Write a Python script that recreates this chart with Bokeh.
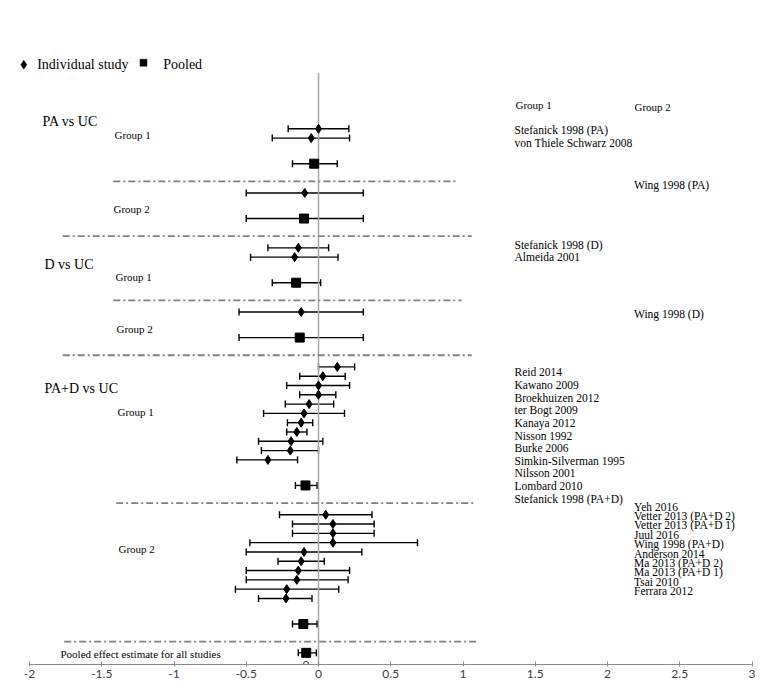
from bokeh.plotting import figure
from bokeh.models import Range1d, ColumnDataSource, Whisker, TeeHead, FixedTicker
from bokeh.core.properties import value
from bokeh.embed import file_html
from bokeh.resources import INLINE

# ---------------- data ----------------
pa_g1_names = ["Stefanick 1998 (PA)", "von Thiele Schwarz 2008"]
pa_g1_est = [0.00, -0.05]
pa_g1_lo = [-0.21, -0.32]
pa_g1_hi = [0.21, 0.215]
pa_g1_pool = [-0.03, -0.18, 0.13]

pa_g2_names = ["Wing 1998 (PA)"]
pa_g2_est = [-0.095]
pa_g2_lo = [-0.50]
pa_g2_hi = [0.31]
pa_g2_pool = [-0.10, -0.50, 0.31]

d_g1_names = ["Stefanick 1998 (D)", "Almeida 2001"]
d_g1_est = [-0.14, -0.165]
d_g1_lo = [-0.35, -0.47]
d_g1_hi = [0.07, 0.135]
d_g1_pool = [-0.155, -0.32, 0.015]

d_g2_names = ["Wing 1998 (D)"]
d_g2_est = [-0.12]
d_g2_lo = [-0.55]
d_g2_hi = [0.31]
d_g2_pool = [-0.13, -0.55, 0.31]

pad_g1_names = ["Reid 2014", "Kawano 2009", "Broekhuizen 2012", "ter Bogt 2009",
                "Kanaya 2012", "Nisson 1992", "Burke 2006", "Simkin-Silverman 1995",
                "Nilsson 2001", "Lombard 2010", "Stefanick 1998 (PA+D)"]
pad_g1_est = [0.13, 0.03, 0.00, 0.00, -0.065, -0.10, -0.12, -0.15, -0.19, -0.195, -0.35]
pad_g1_lo = [0.00, -0.13, -0.22, -0.13, -0.23, -0.38, -0.215, -0.22, -0.415, -0.395, -0.565]
pad_g1_hi = [0.25, 0.185, 0.215, 0.12, 0.105, 0.18, -0.04, -0.08, 0.03, 0.00, -0.145]
pad_g1_pool = [-0.09, -0.16, -0.01]

pad_g2_names = ["Yeh 2016", "Vetter 2013 (PA+D 2)", "Vetter 2013 (PA+D 1)", "Juul 2016",
                "Wing 1998 (PA+D)", "Anderson 2014", "Ma 2013 (PA+D 2)", "Ma 2013 (PA+D 1)",
                "Tsai 2010", "Ferrara 2012"]
pad_g2_est = [0.05, 0.10, 0.10, 0.10, -0.10, -0.12, -0.14, -0.15, -0.22, -0.225]
pad_g2_lo = [-0.27, -0.18, -0.18, -0.475, -0.50, -0.28, -0.50, -0.50, -0.575, -0.415]
pad_g2_hi = [0.37, 0.385, 0.385, 0.685, 0.30, 0.04, 0.215, 0.205, 0.14, -0.045]
pad_g2_pool = [-0.105, -0.18, -0.01]

all_pool = [-0.085, -0.14, -0.015]

section_names = ["PA vs UC", "D vs UC", "PA+D vs UC"]
group_names = ["Group 1", "Group 2"]
pooled_all_label = "Pooled effect estimate for all studies"

sep_x0 = [-1.42, -1.77, -1.42, -1.77, -1.40, -1.76]
sep_x1 = [0.96, 1.06, 0.99, 1.06, 1.08, 1.10]

tick_values = [-2, -1.5, -1, -0.5, 0, 0.5, 1, 1.5, 2, 2.5, 3]
tick_labels = ["-2", "-1.5", "-1", "-0.5", "0", "0.5", "1", "1.5", "2", "2.5", "3"]

# ---------------- layout ----------------
W, H = 755, 684
BOTTOM = 20
PX_X, ZERO_X = 144.5, 318.0      # pixels per unit, pixel of x = 0
PX_ROW, ROW0_Y = 9.3, 128.3      # pixels per row, pixel of first row


def fx(px):
    return (px - ZERO_X) / PX_X


def fy(py):
    return (py - ROW0_Y) / PX_ROW


frame_h = H - BOTTOM
x_range = Range1d(fx(0), fx(W))
y_bottom = fy(frame_h)
y_range = Range1d(y_bottom, fy(0))

groups = [
    (pa_g1_names, pa_g1_est, pa_g1_lo, pa_g1_hi, pa_g1_pool),
    (pa_g2_names, pa_g2_est, pa_g2_lo, pa_g2_hi, pa_g2_pool),
    (d_g1_names, d_g1_est, d_g1_lo, d_g1_hi, d_g1_pool),
    (d_g2_names, d_g2_est, d_g2_lo, d_g2_hi, d_g2_pool),
    (pad_g1_names, pad_g1_est, pad_g1_lo, pad_g1_hi, pad_g1_pool),
    (pad_g2_names, pad_g2_est, pad_g2_lo, pad_g2_hi, pad_g2_pool),
]

st_y, st_x, st_lo, st_hi = [], [], [], []
po_y, po_x, po_lo, po_hi = [], [], [], []
sep_y = []
row = 0.0
for gi, (names, est, lo, hi, pool) in enumerate(groups):
    if gi > 0:
        row = sep_y[-1] + 1.25
    for k in range(len(est)):
        st_y.append(row + k)
        st_x.append(est[k]); st_lo.append(lo[k]); st_hi.append(hi[k])
    row = row + len(est) - 1 + 2.75
    po_y.append(row); po_x.append(pool[0]); po_lo.append(pool[1]); po_hi.append(pool[2])
    sep_y.append(row + 1.9)
all_y = sep_y[-1] + 1.2
po_y.append(all_y); po_x.append(all_pool[0]); po_lo.append(all_pool[1]); po_hi.append(all_pool[2])

p = figure(width=W, height=H, x_range=x_range, y_range=y_range,
           output_backend="svg", toolbar_location=None,
           min_border_left=0, min_border_right=0, min_border_top=0,
           min_border_bottom=BOTTOM, y_axis_location=None)
p.grid.visible = False
p.outline_line_color = None
p.background_fill_color = "white"
p.border_fill_color = "white"

ax = p.xaxis[0]
ax.ticker = FixedTicker(ticks=tick_values)
ax.major_label_overrides = {t: l for t, l in zip(tick_values, tick_labels)}
ax.bounds = (tick_values[0], tick_values[-1])
ax.axis_line_color = "#8c8c8c"
ax.axis_line_width = 1.2
ax.major_tick_line_color = "#8c8c8c"
ax.major_tick_in = 3
ax.major_tick_out = 2
ax.minor_tick_line_color = None
ax.major_label_standoff = 3
ax.major_label_text_font = "Lato"
ax.major_label_text_font_size = "12px"
ax.major_label_text_color = "#404040"

# zero line
p.segment(x0=[0], y0=[fy(72.3)], x1=[0], y1=[y_bottom], line_color="#a6a6a6", line_width=1.5)
p.text(x=[0], y=[y_bottom], text=["0"], x_offset=-9, text_align="right",
       text_baseline="middle", text_font=value("Lato"), text_font_size=value("12px"),
       text_color="#404040")

# separators
p.segment(x0=sep_x0, y0=sep_y, x1=sep_x1, y1=sep_y, line_color="#7f7f7f",
          line_width=1.8, line_dash="7 3 2 3")


def add_whisker(ys, los, his):
    src = ColumnDataSource(dict(y=ys, lo=los, hi=his))
    w = Whisker(source=src, base="y", lower="lo", upper="hi", dimension="width",
                line_color="black", line_width=1.4,
                upper_head=TeeHead(size=7, line_color="black", line_width=1.4),
                lower_head=TeeHead(size=7, line_color="black", line_width=1.4))
    p.add_layout(w)


add_whisker(st_y, st_lo, st_hi)
add_whisker(po_y, po_lo, po_hi)

p.scatter(x=st_x, y=st_y, marker="diamond", size=9, fill_color="black",
          line_color="black", line_width=1)
p.scatter(x=po_x, y=po_y, marker="square", size=9, fill_color="black",
          line_color="black", line_width=1)

# legend
p.scatter(x=[fx(23.3)], y=[fy(64.2)], marker="diamond", size=9, fill_color="black",
          line_color="black", line_width=0.5)
p.scatter(x=[fx(143)], y=[fy(62.2)], marker="square", size=7, fill_color="black",
          line_color="black", line_width=0.5)

SERIF = value("'Liberation Serif', 'Times New Roman', Times, serif")


def texts(xs_px, ys_px, labels, size):
    p.text(x=[fx(v) for v in xs_px], y=[fy(v) for v in ys_px], text=labels,
           text_align="left", text_baseline="middle", text_font=SERIF,
           text_font_size=value(size), text_color="black")


texts([36.7, 162.7], [64.3, 64.3], ["Individual study", "Pooled"], "14px")
texts([42, 44, 44], [120.7, 264, 388.3], section_names, "14px")
texts([114, 113, 115, 116, 117, 118], [134.3, 208.3, 276, 328.3, 411.3, 548.7],
      group_names * 3, "11px")
texts([60], [653.7], [pooled_all_label], "11px")
texts([515, 634], [104, 106.7], group_names, "11px")

label_blocks = [
    (pa_g1_names, 514, 129.0, 13.7),
    (pa_g2_names, 633.5, 184.3, 10.0),
    (d_g1_names, 514, 244.0, 12.7),
    (d_g2_names, 633.5, 313.3, 10.0),
    (pad_g1_names, 514, 371.7, 12.66),
    (pad_g2_names, 633.5, 506.0, 9.41),
]
for names, xpx, ystart, step in label_blocks:
    texts([xpx] * len(names), [ystart + i * step for i in range(len(names))], names, "11.5px")

open("out.html", "w").write(file_html(p, INLINE))
